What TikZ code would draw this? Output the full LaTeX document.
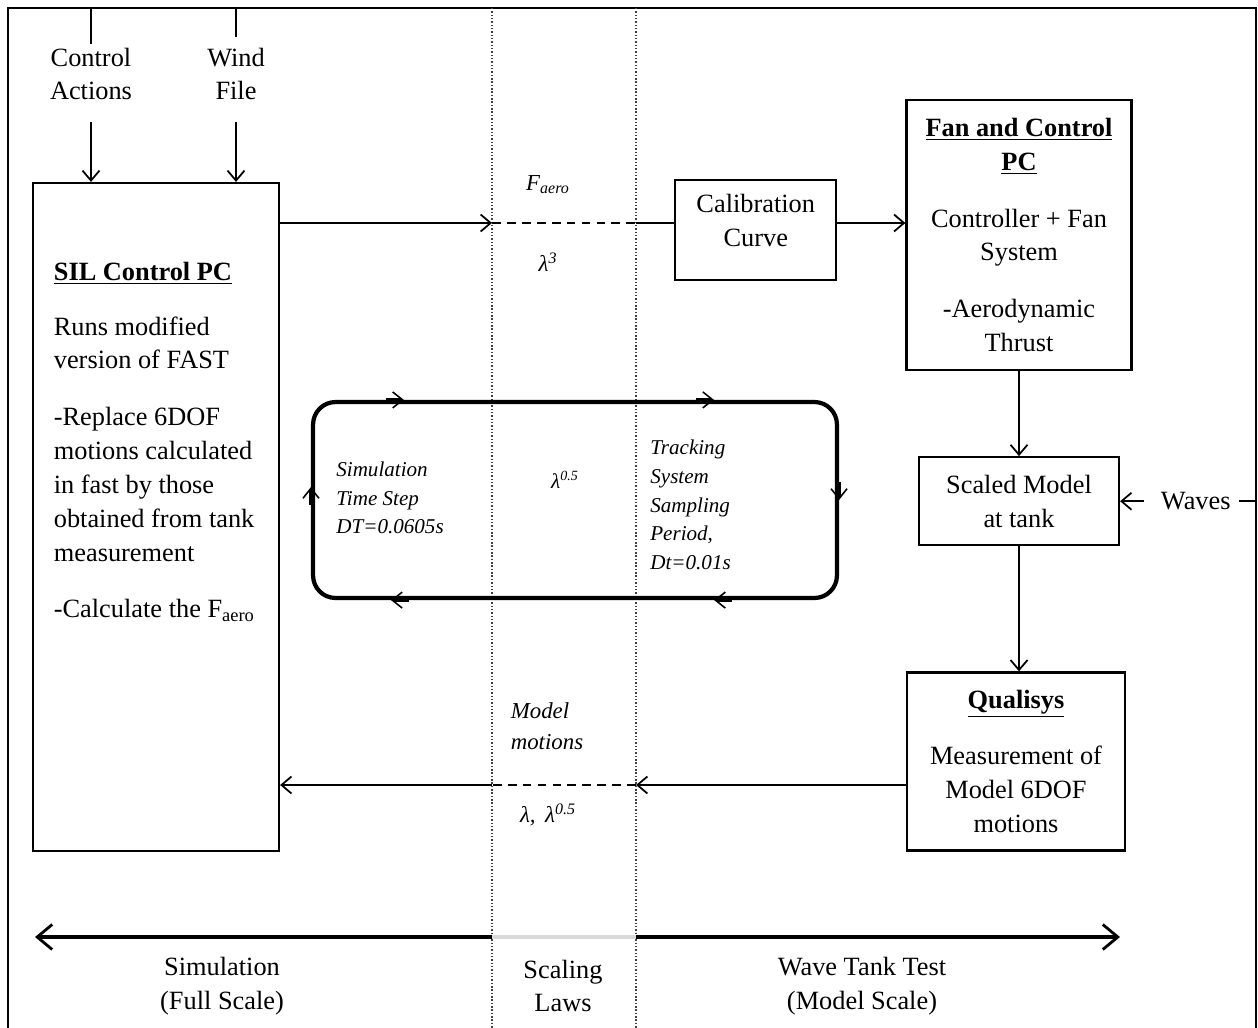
\documentclass[tikz,border=0pt]{standalone}
\usepackage{fontspec}
\setmainfont{Liberation Serif}
\usetikzlibrary{arrows.meta, positioning, calc}
\tikzset{
  box/.style={rectangle, draw, line width=1.3pt, align=center,
              font=\fontsize{15}{19.3}\selectfont, inner sep=0pt},
  plain/.style={align=center, font=\fontsize{15}{19.3}\selectfont, inner sep=2pt},
  italab/.style={align=left, font=\fontsize{13}{18}\selectfont\itshape, inner sep=1pt},
  looptext/.style={align=left, font=\fontsize{12}{16.4}\selectfont\itshape, inner sep=0pt},
  arrow/.style={-{Straight Barb[length=0.2cm, width=0.34cm]}, line width=1pt},
  line/.style={line width=1pt},
  dashline/.style={line width=1.5pt, dash pattern=on 5pt off 3.5pt},
  boundary/.style={line width=0.9pt, dash pattern=on 0.8pt off 1.1pt, black!75},
  loopbox/.style={rectangle, draw, line width=2.4pt, rounded corners=0.45cm},
  looptip/.style={-{Straight Barb[length=0.2cm, width=0.32cm, line width=0.9pt]}, line width=2.4pt},
  scalearrow/.style={{Straight Barb[length=0.3cm, width=0.5cm, line width=1.6pt]}-{Straight Barb[length=0.3cm, width=0.5cm, line width=1.6pt]},
                     line width=2.4pt}
}

\begin{document}
\begin{tikzpicture}[x=0.02cm, y=-0.02cm]
  \useasboundingbox (0,0) rectangle (1258,1028);

  % Frame
  \draw[line width=1.6pt] (8,1028) -- (8,8) -- (1256,8) -- (1256,1028);

  % Scaling law boundaries
  \coordinate (lawLt) at (492,8);
  \coordinate (lawLb) at (492,1028);
  \coordinate (lawRt) at (636,8);
  \coordinate (lawRb) at (636,1028);
  \draw[boundary] (lawLt) -- (lawLb);
  \draw[boundary] (lawRt) -- (lawRb);

  % SIL control PC
  \node[box, minimum width=4.92cm, minimum height=13.36cm] (sil) at (156,517) {};
  \node[plain, align=left, anchor=north west] (siltxt) at (50,258)
       {\underline{\textbf{SIL Control PC}}\\[0.42cm]
        Runs modified\\version of FAST\\[0.45cm]
        -Replace 6DOF\\motions calculated\\in fast by those\\obtained from tank\\measurement\\[0.45cm]
        -Calculate the F\textsubscript{aero}};

  % Inputs
  \node[plain] (ctrl) at (91,74) {Control\\Actions};
  \node[plain] (wind) at (236,74) {Wind\\File};
  \coordinate (ctrltop) at (91,8);
  \coordinate (windtop) at (236,8);
  \draw[line] (ctrltop) -- (ctrl.north);
  \draw[line, shorten >=0.14cm] (windtop) -- (wind.north);
  \draw[arrow, shorten <=0.36cm] (ctrl.south) -- (sil.north -| ctrl.south);
  \draw[arrow, shorten <=0.36cm] (wind.south) -- (sil.north -| wind.south);

  % Wave tank side
  \node[box, minimum width=4.5cm, minimum height=5.4cm] (fan) at (1019,235)
       {\underline{\textbf{Fan and Control}}\\\underline{\textbf{PC}}\\[0.45cm]
        Controller + Fan\\System\\[0.45cm]-Aerodynamic\\Thrust};
  \node[box, minimum width=3.22cm, minimum height=2cm, text depth=0.4cm,
        left=1.36cm of fan, yshift=0.1cm] (calib) {Calibration\\Curve};
  \node[box, minimum width=4cm, minimum height=1.76cm, below=1.7cm of fan] (scaled)
       {Scaled Model\\at tank};
  \node[box, minimum width=4.36cm, minimum height=3.56cm, below=2.5cm of scaled, xshift=-0.06cm] (qual)
       {\underline{\textbf{Qualisys}}\\[0.45cm]Measurement of\\Model 6DOF\\motions};
  \node[plain, right=0.74cm of scaled] (waves) {Waves};
  \coordinate (edge) at (1256,0);

  % Aerodynamic force path
  \coordinate (faL) at (492,223);
  \coordinate (faR) at (636,223);
  \draw[arrow] (sil.east |- faL) -- (faL);
  \draw[dashline] (faL) -- (faR);
  \draw[line] (faR) -- (calib.west |- faR);
  \draw[arrow] (calib.east |- faR) -- (fan.west |- faR);
  \node[italab] (faerolab) at (548,185) {F\textsubscript{aero}};
  \node[italab] (lam3) at (548,262) {λ\textsuperscript{3}};

  % Tank arrows
  \draw[arrow] (fan.south -| scaled.north) -- (scaled.north);
  \draw[arrow] (scaled.south) -- (qual.north -| scaled.south);
  \draw[arrow, shorten <=0.26cm] (waves.west) -- (scaled.east);
  \draw[line, shorten <=0.1cm] (waves.east) -- (waves.east -| edge);

  % Motion feedback path
  \coordinate (mmL) at (492,785);
  \coordinate (mmR) at (636,785);
  \draw[arrow] (qual.west |- mmR) -- (mmR);
  \draw[dashline] (mmR) -- (mmL);
  \draw[arrow] (mmL) -- (sil.east |- mmL);
  \node[italab] (mmlab) at (547,726) {Model\\motions};
  \node[italab] (mmscale) at (548,815) {λ,\, λ\textsuperscript{0.5}};

  % Time step loop
  \node[loopbox, minimum width=10.48cm, minimum height=3.92cm] (loop) at (575,500) {};
  \draw[looptip] ($(loop.north west)+(75,0)$) -- ++(18,0);
  \draw[looptip] ($(loop.north east)+(-143,0)$) -- ++(18,0);
  \draw[looptip] ($(loop.east)+(-0,-18)$) -- ++(0,18);
  \draw[looptip] ($(loop.south east)+(-107,0)$) -- ++(-18,0);
  \draw[looptip] ($(loop.south west)+(98,0)$) -- ++(-18,0);
  \draw[looptip] ($(loop.west)+(0,5)$) -- ++(0,-18);
  \node[looptext, anchor=west] (simstep) at (336,498) {Simulation\\Time Step\\DT=0.0605s};
  \node[looptext] (lamhalf) at (565,480) {λ\textsuperscript{0.5}};
  \node[looptext, anchor=west] (trackper) at (650,505) {Tracking\\System\\Sampling\\Period,\\Dt=0.01s};

  % Scale axis
  \coordinate (axL) at (35,937);
  \coordinate (axR) at (1120,937);
  \draw[scalearrow] (axL) -- (axR);
  \draw[line width=1.8pt, gray!30] (lawLb |- axL) -- (lawRb |- axL);
  \node[plain] (simlab) at (222,986) {Simulation\\(Full Scale)};
  \node[plain] (lawlab) at (563,986) {Scaling\\Laws};
  \node[plain] (tanklab) at (862,986) {Wave Tank Test\\(Model Scale)};
\end{tikzpicture}
\end{document}
